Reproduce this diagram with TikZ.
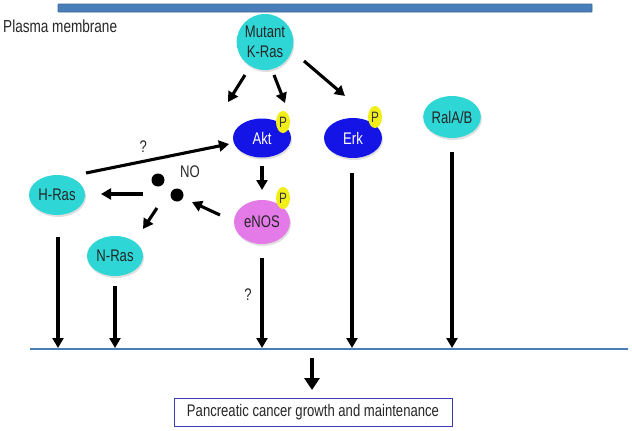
\documentclass[tikz,border=0pt]{standalone}
\usepackage{fontspec}
\setmainfont{Liberation Sans}[FakeStretch=0.78]
\usetikzlibrary{arrows.meta,shapes.geometric,shadows}
\definecolor{memb}{HTML}{4A7EBB}
\definecolor{membd}{HTML}{3A6591}
\definecolor{kcyan}{HTML}{2ED6D6}
\definecolor{kblue}{HTML}{1414E6}
\definecolor{kpink}{HTML}{E47AE8}
\definecolor{kyel}{HTML}{F2EE1A}
\definecolor{boxb}{HTML}{3C3CB4}
\tikzset{
  prot/.style={ellipse, minimum width=56pt, minimum height=40pt, inner sep=0pt, font=\fontsize{16.8}{17}\selectfont,
    drop shadow={shadow xshift=1pt, shadow yshift=-2pt, opacity=0.25}},
  cyanprot/.style={prot, fill=kcyan, text=black!85},
  blueprot/.style={prot, fill=kblue, text=white},
  pinkprot/.style={prot, fill=kpink, text=black!85},
  phos/.style={ellipse, fill=kyel, minimum width=14pt, minimum height=22pt, inner sep=0pt, font=\fontsize{15}{15}\selectfont, text=black!80},
  arr/.style={line width=3.1pt, -{Triangle[length=10pt,width=11pt]}},
  bigarr/.style={line width=4.2pt, -{Triangle[length=12pt,width=15pt]}},
  nodot/.style={circle, fill=black, minimum size=13pt, inner sep=0pt},
  lbl/.style={font=\fontsize{16.8}{17}\selectfont, text=black!85},
}
\begin{document}
\begin{tikzpicture}[x=1pt,y=-1pt]
\useasboundingbox (0,0) rectangle (632,431);
% membrane
\node[draw=membd, fill=memb, line width=0.6pt, minimum width=534pt, minimum height=8pt, inner sep=0pt, rounded corners=0.5pt] (membrane) at (325,8) {};
\node[font=\fontsize{17.4}{18}\selectfont, text=black!85, anchor=west, inner sep=0pt] (pmlabel) at (3,26) {Plasma membrane};
% proteins
\node[cyanprot, minimum width=54pt, minimum height=56pt, align=center, font=\fontsize{16.8}{20}\selectfont] (kras) at (265,42) {Mutant\\K-Ras};
\node[blueprot, minimum width=58pt, minimum height=39pt] (akt) at (262,138) {Akt};
\node[phos] (pakt) at (283,122) {P};
\node[blueprot, minimum width=58pt, minimum height=40pt] (erk) at (353,138) {Erk};
\node[phos] (perk) at (375,117) {P};
\node[cyanprot, minimum width=56pt, minimum height=42pt] (ral) at (452,117) {RalA/B};
\node[cyanprot] (hras) at (57,195) {H-Ras};
\node[cyanprot] (nras) at (115,256) {N-Ras};
\node[pinkprot, minimum height=44pt] (enos) at (262,222) {eNOS};
\node[phos] (penos) at (283,198) {P};
% NO
\node[nodot] (no1) at (158,180) {};
\node[nodot] (no2) at (177,195) {};
\node[lbl] (nolabel) at (190,172) {NO};
% coordinates
\coordinate (k1s) at (245,75); \coordinate (k1e) at (228,102);
\coordinate (k2s) at (274,75); \coordinate (k2e) at (285,103);
\coordinate (k3s) at (304,61); \coordinate (k3e) at (345,96);
% arrows from K-Ras
\draw[arr] (k1s) -- (k1e);
\draw[arr] (k2s) -- (k2e);
\draw[arr] (k3s) -- (k3e);
% Akt -> eNOS
\draw[arr] (akt.south |- 0,166) -- (262,190);
% eNOS -> NO
\draw[arr] (220,215) -- (192,202);
% NO -> H-Ras
\draw[arr] (143,194) -- (101,194);
% NO -> N-Ras
\draw[arr] (157,208) -- (143,229);
% H-Ras -> Akt
\draw[arr] (86,173) -- node[lbl, above=4pt, pos=0.4] {?} (229,144);
% baseline
\node[draw=memb, line width=2pt, minimum width=598pt, minimum height=0pt, inner sep=0pt] (base) at (329,348.5) {};
% vertical connectors
\coordinate (hb) at (58,348); \coordinate (nb) at (115,348); \coordinate (eb) at (262,348);
\coordinate (rb) at (352,348); \coordinate (lb) at (452,348);
\draw[arr] (58,237) -- (hb);
\draw[arr] (115,286) -- (nb);
\draw[arr] (262,258) -- (eb);
\node[lbl] (qe) at (248,295) {?};
\draw[arr] (352,173) -- (rb);
\draw[arr] (452,152) -- (lb);
% outcome
\node[draw=boxb, line width=0.8pt, minimum width=278pt, minimum height=28pt, inner sep=0pt, font=\fontsize{16.8}{17}\selectfont, text=black!85] (out) at (313,412) {Pancreatic cancer growth and maintenance};
\draw[bigarr] (312,358) -- (312,390);
\end{tikzpicture}
\end{document}
